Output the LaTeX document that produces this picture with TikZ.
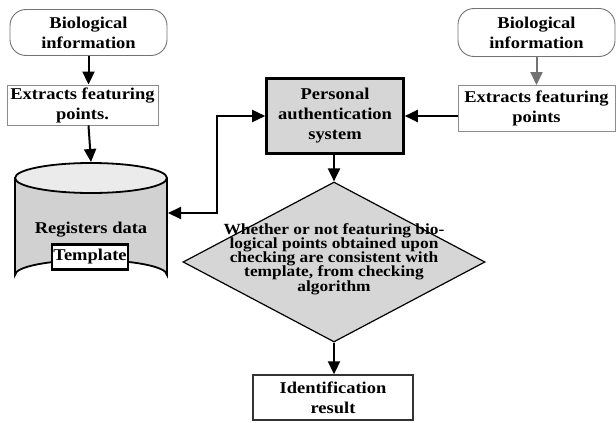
\documentclass[tikz,border=0pt]{standalone}
\usepackage{fontspec}
\setmainfont{Liberation Serif}[FakeStretch=1.12]
\usetikzlibrary{arrows.meta,shapes.geometric}
\newcommand\tightlines{\lineskiplimit=-20pt\relax\lineskip=0pt\relax}
\begin{document}
\begin{tikzpicture}[x=1pt,y=-1pt,
  every node/.style={font=\fontsize{16.5}{20}\selectfont\bfseries, align=center, inner sep=0pt},
  roundbox/.style={draw=black!55, line width=0.9pt, fill=white, rounded corners=16pt},
  lightbox/.style={draw=black!45, line width=0.9pt, fill=white},
  graybox/.style={draw=black, line width=2.6pt, fill=black!16},
  resbox/.style={draw=black!80, line width=1.4pt, fill=white},
  decision/.style={diamond, draw=black, line width=1.2pt, fill=black!16, aspect=1.9},
  arr/.style={line width=2pt, -{Triangle[width=12pt,length=13pt]}},
  dblarr/.style={line width=2pt, {Triangle[width=12pt,length=13pt]}-{Triangle[width=12pt,length=13pt]}}
]
\useasboundingbox (0,0) rectangle (616,423);

% left column
\node[roundbox, minimum width=157pt, minimum height=46pt] (bioL) at (88.5,32.5) {Biological\\information};
\node[lightbox, minimum width=151pt, minimum height=40pt] (extL) at (82.5,105) {Extracts featuring\\points.};

% cylinder
\node[minimum width=152pt, minimum height=97pt] (cyl) at (91,226.5) {};
\path[draw=black, line width=1.8pt, fill=black!18]
  (15,178) -- (15,275) arc[start angle=180, end angle=360, x radius=76, y radius=15] -- (167,178);
\path[draw=black, line width=1.8pt, fill=black!8]
  (91,178) ellipse [x radius=76, y radius=15];
\node (regtxt) at (91,230) {Registers data};
\node[draw=black, line width=2.6pt, fill=white, minimum width=76pt, minimum height=25pt] (tmpl) at (90,257) {Template};
\coordinate (cylR) at (168,213);

% right column
\node[roundbox, minimum width=157pt, minimum height=48pt] (bioR) at (536.5,32.5) {Biological\\information};
\node[lightbox, minimum width=157pt, minimum height=46pt] (extR) at (536.5,108.5) {Extracts featuring\\points};

% centre
\node[graybox, minimum width=137pt, minimum height=75pt] (pa) at (335,116) {Personal\\authentication\\system};
\node[decision, minimum width=302pt, minimum height=160pt] (dia) at (334,262) {};
\node[font=\fontsize{15.5}{14.2}\selectfont\bfseries\tightlines] (diatxt) at (334,259)
  {Whether or not featuring bio-\\logical points obtained upon\\checking are consistent with\\template, from checking\\algorithm};
\node[resbox, minimum width=160pt, minimum height=45pt] (res) at (333,397.5) {Identification\\result};

\coordinate (jn) at (217,213);

% connectors
\draw[arr] (bioL) -- (extL.north -| bioL.south);
\draw[arr] (extL.south -| bioL.south) -- (91,162);
\draw[arr, draw=black!55] (bioR) -- (extR);
\draw[arr] (extR.west |- pa.east) -- (pa.east);
\draw[dblarr] (cylR) -- (jn) |- (pa.west);
\draw[arr] (pa.south -| dia.north) -- (dia.north);
\draw[arr] (dia.south) -- (res.north -| dia.south);
\end{tikzpicture}
\end{document}
